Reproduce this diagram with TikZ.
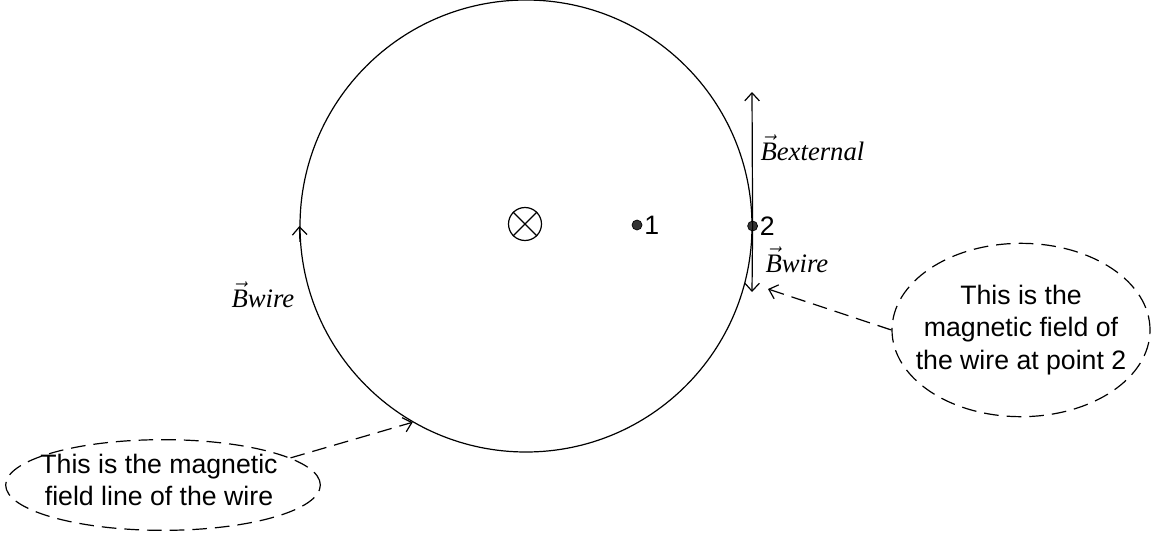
\documentclass[tikz,border=0pt]{standalone}
\usepackage{fontspec}
\setmainfont{Liberation Sans}
\newfontfamily\timesfont{Liberation Serif}
\usetikzlibrary{arrows.meta,positioning,shapes.geometric}

\begin{document}
\begin{tikzpicture}[x=0.75pt,y=-0.75pt,
		line width=0.9pt,
		vec/.style={-{Straight Barb[length=6pt,width=11pt]}},
		note/.style={draw, ellipse, dash pattern=on 11pt off 6pt, inner sep=0pt},
		notetext/.style={align=center, inner sep=0pt, font=\fontsize{20}{24.5}\selectfont},
		blabel/.style={anchor=base west, inner sep=0pt, font=\timesfont\itshape\fontsize{20}{24}\selectfont},
		dot/.style={circle, fill=black!80, draw, line width=0.5pt, inner sep=0pt, minimum size=7.5pt},
		num/.style={inner sep=1pt, font=\fontsize{20}{22}\selectfont}]

		\useasboundingbox (0,0) rectangle (1151,535);

		% -- field line and wire --
		\node[draw, circle, minimum size=339pt, inner sep=0pt] (field) at (526,226) {};
		\node[draw, circle, minimum size=24.75pt, inner sep=0pt] (wire) at (525,224) {};
		\draw (wire.45) -- (wire.225) (wire.135) -- (wire.-45);
		\draw[vec] (field.184) -- (field.180);
		\node[blabel] (lbwl) at (231,307) {$\vec{\textit{B}}$wire};

		% -- points 1 and 2 --
		\node[dot] (p1) at (637,225) {};
		\node[num, right=0pt of p1] (l1) {1};
		\node[dot] (p2) at (field.east) {};
		\node[num, right=0pt of p2] (l2) {2};

		% -- field vectors at point 2 --
		\coordinate (bext) at (752,92);
		\coordinate (bwire) at (752,292);
		\draw[vec] (p2.center) -- (bext);
		\draw[vec] (p2.center) -- (bwire);
		\node[blabel] (lbext) at (760,160) {$\vec{\textit{B}}$external};
		\node[blabel] (lbwr) at (765,272) {$\vec{\textit{B}}$wire};

		% -- notes --
		\node[note, minimum width=236pt, minimum height=68pt] (lnote) at (163,485) {};
		\node[notetext] (ltext) at (159,480) {This is the magnetic\\field line of the wire};
		\node[note, minimum width=193.5pt, minimum height=130pt] (rnote) at (1021,330) {};
		\node[notetext] (rtext) at (1021,330) {This is the\\magnetic field of\\the wire at point 2};

		\coordinate (tipr) at (768,289);
		\draw[vec, dash pattern=on 11pt off 6pt] (lnote.12) -- (field.-120);
		\draw[vec, dash pattern=on 11pt off 6pt] (rnote.west) -- (tipr);

	\end{tikzpicture}
\end{document}
